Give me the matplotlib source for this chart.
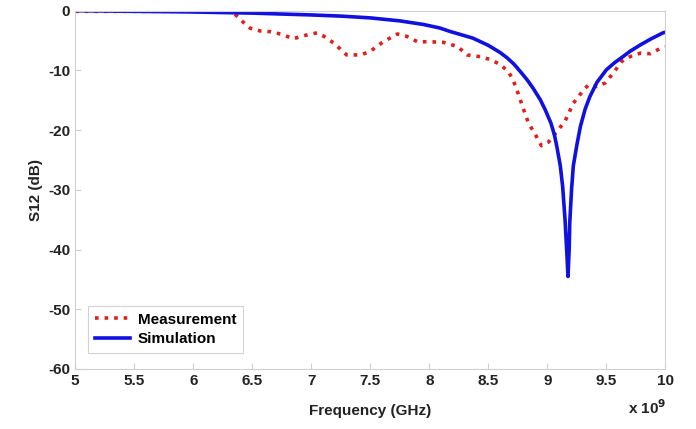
import numpy as np
import matplotlib.pyplot as plt

plt.rcParams['font.family'] = ['Liberation Sans', 'DejaVu Sans']
plt.rcParams['font.weight'] = 'bold'
plt.rcParams['axes.unicode_minus'] = False

# Measurement (red dotted), frequency in GHz, S12 in dB
f_meas = [5.0, 5.5, 6.0, 6.08, 6.2, 6.34, 6.40, 6.48, 6.57, 6.65, 6.74, 6.85, 6.93,
          7.05, 7.10, 7.19, 7.30, 7.42, 7.50, 7.61, 7.73, 7.81, 7.90, 8.01,
          8.12, 8.24, 8.32, 8.43, 8.52, 8.60, 8.67, 8.71, 8.75, 8.80, 8.84,
          8.90, 8.95, 9.01, 9.07, 9.15, 9.22, 9.31, 9.35, 9.42, 9.49, 9.56,
          9.63, 9.70, 9.79, 9.87, 9.97, 10.0]
s_meas = [-0.1, -0.1, -0.1, 0.8, 0.3, -0.3, -1.5, -2.9, -3.4, -3.5, -3.9, -4.7, -4.2,
          -3.7, -4.2, -5.4, -7.4, -7.4, -6.8, -5.2, -3.9, -4.3, -5.2, -5.2,
          -5.3, -6.0, -7.4, -7.7, -8.2, -9.0, -10.2, -11.6, -13.7, -16.6, -18.8,
          -20.8, -22.6, -22.0, -20.5, -18.5, -15.5, -13.2, -12.4, -12.7, -12.1, -10.4,
          -8.5, -7.7, -7.1, -7.2, -6.2, -6.1]

# Simulation (blue solid)
f_sim = [5.0, 5.5, 5.97, 6.5, 6.99, 7.25, 7.5, 7.75, 7.95, 8.09, 8.18, 8.25, 8.37, 8.5,
         8.6, 8.66, 8.72, 8.78, 8.83, 8.88, 8.94, 8.98, 9.03, 9.06, 9.08, 9.11,
         9.13, 9.15, 9.165, 9.175, 9.185, 9.19, 9.205, 9.22, 9.25, 9.28, 9.32,
         9.36, 9.42, 9.50, 9.57, 9.64, 9.70, 9.79, 9.88, 9.98, 10.0]
s_sim = [0.0, -0.1, -0.2, -0.4, -0.7, -0.9, -1.2, -1.7, -2.3, -2.9, -3.5, -3.9, -4.6, -5.8,
         -7.0, -7.9, -9.0, -10.4, -11.6, -13.0, -14.9, -16.5, -18.8, -20.8, -22.7, -26.0,
         -29.5, -35.0, -40.5, -44.5, -40.0, -35.5, -30.0, -26.0, -22.5, -19.4, -16.5,
         -14.4, -12.0, -9.9, -8.7, -7.7, -6.8, -5.7, -4.7, -3.7, -3.6]

fig = plt.figure(figsize=(6.96, 4.29), dpi=100)
ax = fig.add_axes([0.108, 0.14, 0.848, 0.835])

ax.plot(f_meas, s_meas, color='#e0201b', linestyle=':', linewidth=2.6, label='Measurement')
ax.plot(f_sim, s_sim, color='#1010e0', linestyle='-', linewidth=2.6, label='Simulation')

ax.set_xlim(5, 10)
ax.set_ylim(-60, 0)
ax.set_xticks(np.arange(5, 10.01, 0.5))
ax.set_xticklabels(['5', '5.5', '6', '6.5', '7', '7.5', '8', '8.5', '9', '9.5', '10'])
ax.set_yticks(np.arange(-60, 1, 10))

for sp in ax.spines.values():
    sp.set_color('#d0d0d0')
ax.tick_params(direction='in', colors='#d0d0d0', labelcolor='#222222', labelsize=11, length=4)
for lab in ax.get_xticklabels() + ax.get_yticklabels():
    lab.set_fontweight('bold')

ax.set_xlabel('Frequency (GHz)', fontsize=11, fontweight='bold', color='#222222', labelpad=12)
ax.set_ylabel('S12 (dB)', fontsize=11, fontweight='bold', color='#222222', labelpad=4)
fig.text(0.902, 0.035, r'x 10$^{\mathbf{9}}$', fontsize=11, fontweight='bold', color='#222222')

leg = ax.legend(loc='lower left', bbox_to_anchor=(0.022, 0.045), borderaxespad=0,
                fontsize=11, frameon=True, fancybox=False, handlelength=2.3,
                handletextpad=0.5, borderpad=0.45, labelspacing=0.35)
leg.get_frame().set_edgecolor('#c8c8c8')
leg.get_frame().set_linewidth(0.8)
for t in leg.get_texts():
    t.set_fontweight('bold')

fig.savefig('out.png', dpi=100)
